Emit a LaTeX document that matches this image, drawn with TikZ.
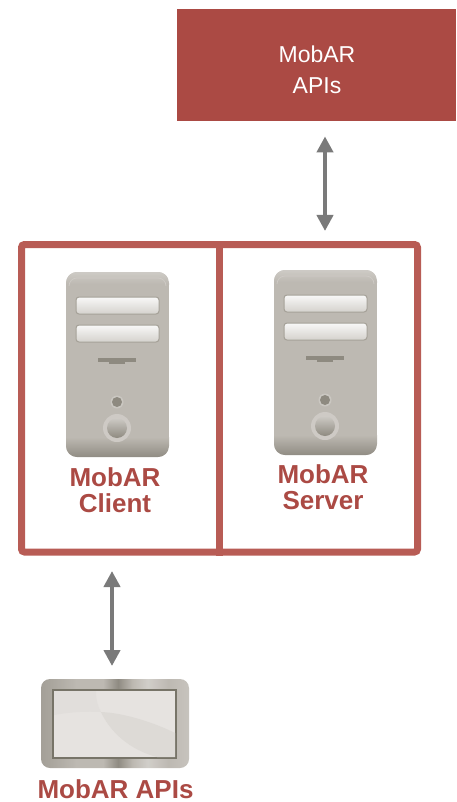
\documentclass[tikz,border=0pt]{standalone}
\usetikzlibrary{arrows.meta}
\usepackage{fontspec}
\setmainfont{Liberation Sans}
\definecolor{brick}{HTML}{AB4A44}
\definecolor{framered}{HTML}{B85C55}
\definecolor{arrowgrey}{HTML}{7A7A7A}
\definecolor{casegrey}{HTML}{BDB9B2}
\definecolor{casedark}{HTML}{8F8B82}
\definecolor{bayedge}{HTML}{A5A198}
\definecolor{slotgrey}{HTML}{8E8A80}
\definecolor{screenlight}{HTML}{E6E3E0}
\definecolor{screenmid}{HTML}{E1DEDB}
\definecolor{screendark}{HTML}{DDDAD6}
\definecolor{bezeldark}{HTML}{777468}
\pgfdeclarehorizontalshading{metal}{100bp}{
  color(0bp)=(casedark!55!casegrey);
  color(25bp)=(casedark!55!casegrey);
  color(29bp)=(casedark!40!casegrey);
  color(37bp)=(casegrey);
  color(46bp)=(casegrey);
  color(51bp)=(casedark);
  color(56bp)=(casegrey);
  color(61bp)=(casegrey!70!white);
  color(68bp)=(casegrey);
  color(75bp)=(casegrey!85!white);
  color(100bp)=(casegrey!85!white)}
\tikzset{
  x=1pt,y=-1pt,
  linkarrow/.style={draw=arrowgrey,line width=4.5pt,{Triangle[length=16pt,width=16pt]}-{Triangle[length=16pt,width=16pt]}},
  boldlabel/.style={font=\bfseries\fontsize{26}{25.5}\selectfont,text=brick,align=center,inner sep=0pt},
  baylook/.style={rounded corners=3pt,draw=bayedge,line width=1pt,top color=white!90!casegrey,bottom color=casegrey!65!white},
}
\newcommand{\towerpc}[2]{%
  \begin{scope}[shift={(#1,#2)}]
    \begin{scope}
      \clip[rounded corners=11pt] (0,0) rectangle (103,185);
      \fill[casegrey] (0,0) rectangle (103,185);
      \shade[top color=casegrey!75!white,bottom color=casegrey] (0,0) rectangle (103,12);
      \shade[top color=casegrey,bottom color=casedark] (0,165) rectangle (103,185.5);
    \end{scope}
    \draw[casegrey!75!white,line width=.7pt,rounded corners=8pt] (3,14) -- (3,6) -- (100,6) -- (100,14);
    \path[baylook] (10,25) rectangle (93,42);
    \path[baylook] (10,53) rectangle (93,70);
    \fill[slotgrey] (32,86) rectangle (70,90);
    \fill[slotgrey] (43,90) rectangle (59,92);
    \fill[casegrey!80!white] (51,130) circle[radius=6.5];
    \fill[slotgrey] (51,130) circle[radius=5];
    \fill[casegrey!75!white] (51,156) circle[radius=14];
    \shade[top color=casegrey!75!white,bottom color=slotgrey] (51,156) circle[radius=10];
  \end{scope}}
\begin{document}
\begin{tikzpicture}
\useasboundingbox (0,0) rectangle (456,802);
% top box
\node[fill=brick,minimum width=279pt,minimum height=112pt,inner sep=0pt,anchor=north west] (apibox) at (177,9) {};
\node[text=white,align=center,inner sep=0pt,font=\fontsize{23}{31}\selectfont] (apitext) at (317,70) {MobAR\\APIs};
% frame
\node[draw=framered,line width=7pt,rounded corners=3pt,minimum width=396pt,minimum height=307.5pt,inner sep=0pt,anchor=north west] (frame) at (18,241) {};
\coordinate (divx) at (219.5,0);
\draw[framered,line width=7pt] (frame.north -| divx) -- (frame.south -| divx);
% computers
\towerpc{66}{272}
\towerpc{274}{270}
\node[boldlabel] (clientlabel) at (115,490) {MobAR\\Client};
\node[boldlabel] (serverlabel) at (323,487) {MobAR\\Server};
% tablet
\shade[shading=metal,rounded corners=9pt] (41,679) rectangle (189,768);
\fill[bezeldark] (52,689) rectangle (177,759);
\node[fill=screenlight,minimum width=121pt,minimum height=66pt,inner sep=0pt,anchor=north west] (tablet) at (54,691) {};
\fill[screenmid] (54,691) -- (96,691) .. controls (96,700) and (98,707) .. (101,712) .. controls (80,711) and (65,713) .. (54,715) -- cycle;
\fill[screendark] (101,712) .. controls (125,713) and (155,723) .. (175,733) -- (175,757) -- (157,757) .. controls (130,750) and (110,732) .. (101,712) -- cycle;
\node[boldlabel] (tabletlabel) at (115.5,789.5) {MobAR APIs};
% connectors
\coordinate (upperx) at (325,0);
\coordinate (lowerx) at (112,0);
\draw[linkarrow,shorten <=15pt,shorten >=10pt] (apibox.south -| upperx) -- (frame.north -| upperx);
\draw[linkarrow,shorten <=15.5pt,shorten >=25pt] (frame.south -| lowerx) -- (tablet.north -| lowerx);
\end{tikzpicture}
\end{document}
